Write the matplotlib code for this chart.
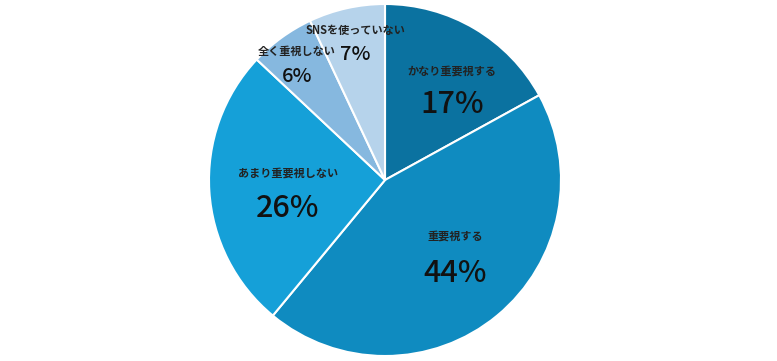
import matplotlib
matplotlib.use("Agg")
import matplotlib.pyplot as plt

plt.rcParams['font.family'] = ['Noto Sans CJK JP', 'DejaVu Sans']

categories = ["かなり重要視する", "重要視する", "あまり重要視しない", "全く重視しない", "SNSを使っていない"]
values = [17, 44, 26, 6, 7]
colors = ["#0b72a0", "#0f8bc0", "#15a0d8", "#86b8df", "#b6d3eb"]

# layout: label / percentage positions (axes data units, pie radius = 1)
cat_pos = [(0.381, 0.619), (0.398, -0.319), (-0.551, 0.039), (-0.50, 0.732), (-0.165, 0.852)]
pct_pos = [(0.381, 0.428), (0.398, -0.532), (-0.551, -0.163), (-0.50, 0.590), (-0.170, 0.712)]
pct_size = [22, 22, 22, 14.5, 14.5]

fig = plt.figure(figsize=(7.77, 3.61), dpi=100)
W, H = 777, 361
cx, cy, R = 385, 180, 176
ax = fig.add_axes([(cx - R) / W, (H - cy - R) / H, 2 * R / W, 2 * R / H])
wedges, _ = ax.pie(values, colors=colors, startangle=90, counterclock=False,
                   radius=1.0, wedgeprops=dict(edgecolor="white", linewidth=1.5))
ax.set_xlim(-1, 1)
ax.set_ylim(-1, 1)
ax.set_aspect("equal")
ax.axis("off")

for cat, v, cp, pp, ps in zip(categories, values, cat_pos, pct_pos, pct_size):
    ax.text(cp[0], cp[1], cat, ha="center", va="center", fontsize=8,
            fontweight="bold", color="#222222")
    ax.text(pp[0], pp[1], f"{v}%", ha="center", va="center", fontsize=ps,
            fontweight="medium", color="#111111")

fig.savefig("out.png", dpi=100)
